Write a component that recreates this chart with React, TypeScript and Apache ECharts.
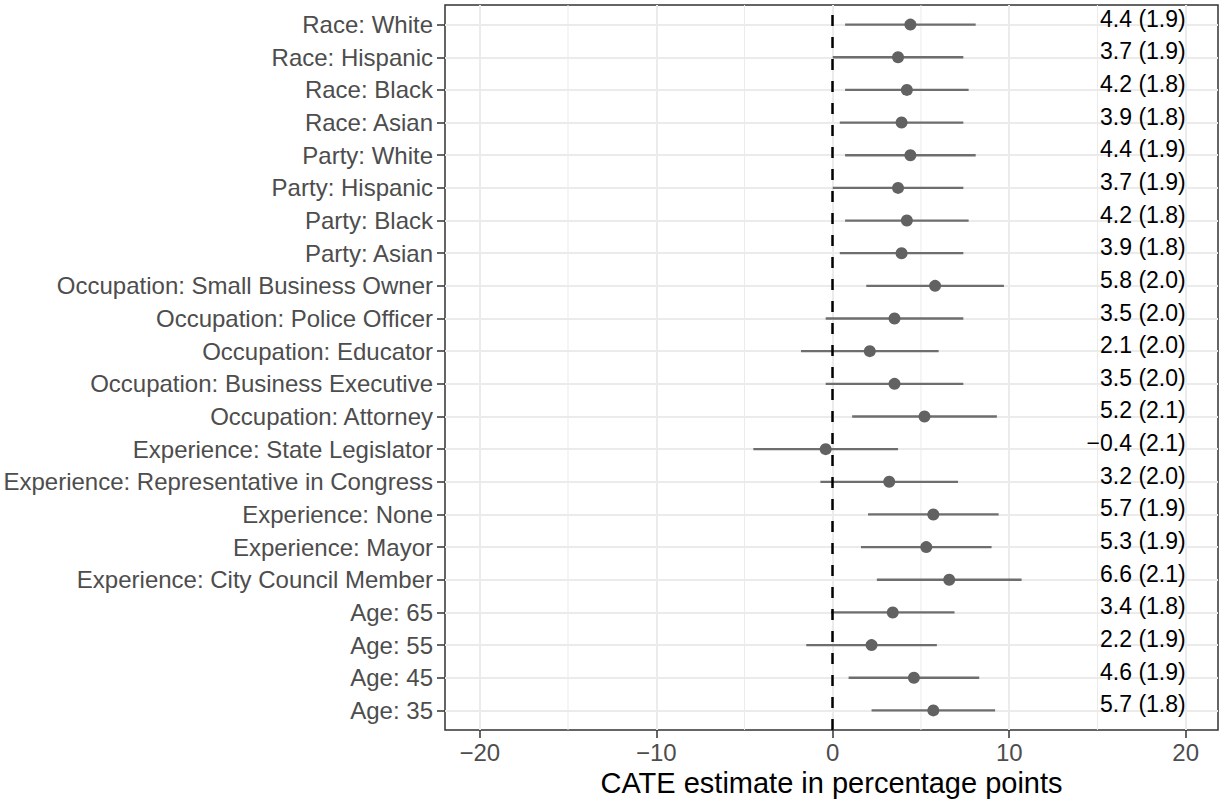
import React, { useEffect, useRef } from "react";
import * as echarts from "echarts";

// Rows listed from bottom (index 0) to top
const categories = [
  "Age: 35",
  "Age: 45",
  "Age: 55",
  "Age: 65",
  "Experience: City Council Member",
  "Experience: Mayor",
  "Experience: None",
  "Experience: Representative in Congress",
  "Experience: State Legislator",
  "Occupation: Attorney",
  "Occupation: Business Executive",
  "Occupation: Educator",
  "Occupation: Police Officer",
  "Occupation: Small Business Owner",
  "Party: Asian",
  "Party: Black",
  "Party: Hispanic",
  "Party: White",
  "Race: Asian",
  "Race: Black",
  "Race: Hispanic",
  "Race: White",
];
const estimates = [5.7, 4.6, 2.2, 3.4, 6.6, 5.3, 5.7, 3.2, -0.4, 5.2, 3.5, 2.1, 3.5, 5.8, 3.9, 4.2, 3.7, 4.4, 3.9, 4.2, 3.7, 4.4];
const stdErrors = [1.8, 1.9, 1.9, 1.8, 2.1, 1.9, 1.9, 2.0, 2.1, 2.1, 2.0, 2.0, 2.0, 2.0, 1.8, 1.8, 1.9, 1.9, 1.8, 1.8, 1.9, 1.9];
const lowerCI = [2.2, 0.9, -1.5, -0.1, 2.5, 1.6, 2.0, -0.7, -4.5, 1.1, -0.4, -1.8, -0.4, 1.9, 0.4, 0.7, 0.0, 0.7, 0.4, 0.7, 0.0, 0.7];
const upperCI = [9.2, 8.3, 5.9, 6.9, 10.7, 9.0, 9.4, 7.1, 3.7, 9.3, 7.4, 6.0, 7.4, 9.7, 7.4, 7.7, 7.4, 8.1, 7.4, 7.7, 7.4, 8.1];
const xMajorTicks = [-20, -10, 0, 10, 20];
const xMinorTicks = [-15, -5, 5, 15];
const labelX = 20;
const xTitle = "CATE estimate in percentage points";

const FONT = "'Liberation Sans', Arial, Helvetica, sans-serif";
const minus = (s: string) => s.replace("-", "\u2212");

export default function App() {
  const ref = useRef<HTMLDivElement>(null);
  useEffect(() => {
    if (!ref.current) return;
    const chart = echarts.init(ref.current, undefined, { renderer: "svg" });
    const rowIdx = categories.map((_, i) => i);
    const option: any = {
      animation: false,
      backgroundColor: "#ffffff",
      textStyle: { fontFamily: FONT },
      grid: {
        left: 445,
        right: 4,
        top: 5,
        bottom: 74,
        show: true,
        borderColor: "#333333",
        borderWidth: 1.5,
        backgroundColor: "transparent",
        containLabel: false,
        outerBoundsMode: "none",
      },
      xAxis: {
        type: "value",
        min: -21.97,
        max: 21.83,
        name: xTitle,
        nameLocation: "middle",
        nameGap: 30,
        nameTextStyle: { fontSize: 29, color: "#000", fontFamily: FONT },
        axisLine: { show: false, onZero: false },
        axisTick: {
          show: true,
          customValues: xMajorTicks,
          length: 8,
          lineStyle: { color: "#333333", width: 1.5 },
        },
        axisLabel: {
          customValues: xMajorTicks,
          fontSize: 24,
          color: "#4D4D4D",
          margin: 10,
          fontFamily: FONT,
          formatter: (v: number) => minus(String(v)),
        },
        splitLine: { show: true, lineStyle: { color: "#EBEBEB", width: 2 } },
      },
      yAxis: {
        type: "value",
        min: -0.6,
        max: 21.6,
        axisLine: { show: false, onZero: false },
        axisTick: {
          show: true,
          customValues: rowIdx,
          length: 8,
          lineStyle: { color: "#333333", width: 1.5 },
        },
        axisLabel: {
          customValues: rowIdx,
          fontSize: 24,
          color: "#4D4D4D",
          margin: 12,
          fontFamily: FONT,
          formatter: (v: number) => categories[Math.round(v)] ?? "",
        },
        splitLine: { show: true, lineStyle: { color: "#EBEBEB", width: 2 } },
      },
      series: [
        {
          type: "custom",
          z: 1,
          silent: true,
          data: xMinorTicks.map((v) => [v, 0]),
          encode: { x: 0, y: 1 },
          renderItem: (params: any, api: any) => {
            const cs = params.coordSys;
            const x = api.coord([api.value(0), 0])[0];
            return {
              type: "line",
              shape: { x1: x, y1: cs.y, x2: x, y2: cs.y + cs.height },
              style: { stroke: "#EBEBEB", lineWidth: 1 },
            };
          },
        },
        {
          type: "custom",
          z: 3,
          silent: true,
          data: rowIdx.map((i) => [lowerCI[i], upperCI[i], i]),
          encode: { x: [0, 1], y: 2 },
          renderItem: (params: any, api: any) => {
            const p1 = api.coord([api.value(0), api.value(2)]);
            const p2 = api.coord([api.value(1), api.value(2)]);
            return {
              type: "line",
              shape: { x1: p1[0], y1: p1[1], x2: p2[0], y2: p2[1] },
              style: { stroke: "#6e6e6e", lineWidth: 2.3 },
            };
          },
        },
        {
          type: "scatter",
          z: 4,
          silent: true,
          symbol: "circle",
          symbolSize: 12,
          itemStyle: { color: "#626262", opacity: 1 },
          data: rowIdx.map((i) => [estimates[i], i]),
          markLine: {
            silent: true,
            symbol: "none",
            label: { show: false },
            lineStyle: { color: "#000000", type: [11, 11], width: 2.5 },
            data: [{ xAxis: 0 }],
          },
        },
        {
          type: "custom",
          z: 5,
          silent: true,
          data: rowIdx.map((i) => [labelX, i]),
          encode: { x: 0, y: 1 },
          renderItem: (params: any, api: any) => {
            const i = params.dataIndex;
            const p = api.coord([api.value(0), api.value(1)]);
            const txt = `${minus(estimates[i].toFixed(1))} (${stdErrors[i].toFixed(1)})`;
            return {
              type: "text",
              x: p[0],
              y: p[1] - 6,
              style: {
                text: txt,
                align: "right",
                verticalAlign: "middle",
                textAlign: "right",
                textVerticalAlign: "middle",
                fontSize: 23,
                fontFamily: FONT,
                fill: "#000000",
              },
            };
          },
        },
      ],
    };
    chart.setOption(option);
    return () => chart.dispose();
  }, []);
  return (
    <div
      ref={ref}
      style={{ position: "fixed", left: 0, top: 0, width: 1222, height: 804 }}
    />
  );
}
